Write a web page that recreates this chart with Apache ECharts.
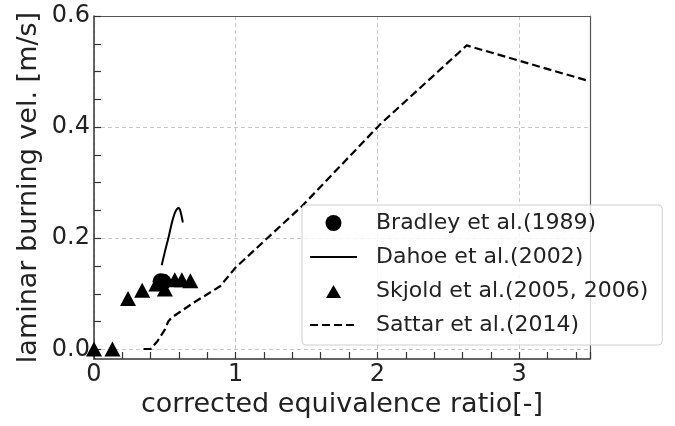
<!DOCTYPE html>
<html><head><meta charset="utf-8">
<script src="https://cdn.jsdelivr.net/npm/echarts@6/dist/echarts.min.js"></script>
<style>html,body{margin:0;padding:0;background:#fff}#c{width:675px;height:426px}</style>
</head><body><div id="c"></div>
<script>
// ---- data ----
const seriesNames = ['Bradley et al.(1989)', 'Dahoe et al.(2002)', 'Skjold et al.(2005, 2006)', 'Sattar et al.(2014)'];
const bradley = [[0.47, 0.122], [0.49, 0.121]];
const dahoe = [[0.478, 0.151], [0.50, 0.175], [0.525, 0.200], [0.55, 0.228], [0.57, 0.245], [0.585, 0.252], [0.598, 0.254], [0.61, 0.248], [0.627, 0.228]];
const skjold = [[0.0, 0.0], [0.13, 0.0], [0.24, 0.091], [0.34, 0.106], [0.44, 0.117], [0.50, 0.108], [0.57, 0.125], [0.62, 0.125], [0.68, 0.123]];
const sattar = [[0.35, 0.0], [0.40, 0.0], [0.45, 0.015], [0.50, 0.035], [0.525, 0.050], [0.55, 0.057], [0.70, 0.083], [0.89, 0.113], [1.0, 0.147], [1.47, 0.258], [2.02, 0.405], [2.63, 0.547], [3.49, 0.483]];
const xMajor = [0, 1, 2, 3];
const xTickLabels = ['0', '1', '2', '3'];
const yMajor = [0, 0.2, 0.4, 0.6];
const yTickLabels = ['0.0', '0.2', '0.4', '0.6'];
const xName = 'corrected equivalence ratio[-]';
const yName = 'laminar burning vel. [m/s]';

const FONT = 'DejaVu Sans';
function pick(majors, labels) {
  return function (v) {
    for (let i = 0; i < majors.length; i++) if (Math.abs(v - majors[i]) < 1e-6) return labels[i];
    return '';
  };
}
const spine = '#333';
const gridLine = {show: true, lineStyle: {color: '#c8c8c8', type: [4, 3], width: 1}};
const Y_MIN = -0.018, Y_MAX = 0.6;
// legend triangle icon inside a 47x16 box so it keeps its shape
const triIcon = 'path://M0,0 M47,16 M23.5,2 L31,15 L16,15 Z';

const chart = echarts.init(document.getElementById('c'), null, {renderer: 'canvas'});
chart.setOption({
  animation: false,
  backgroundColor: '#fff',
  textStyle: {fontFamily: FONT},
  grid: [
    {left: 94, right: 85, top: 16, bottom: 67, containLabel: false},
    {left: 94, right: 85, top: 16, bottom: 76.7, containLabel: false}
  ],
  xAxis: [
    {
      gridIndex: 0, type: 'value', min: 0, max: 3.5, interval: 0.2, position: 'bottom',
      axisLine: {show: true, onZero: false, lineStyle: {color: spine, width: 1.5}},
      axisTick: {show: true, inside: true, length: 7, lineStyle: {color: spine, width: 1.2}},
      axisLabel: {formatter: pick(xMajor, xTickLabels), fontSize: 24, color: '#222', margin: 4, fontFamily: FONT},
      splitLine: {show: false},
      name: xName, nameLocation: 'middle', nameGap: 31,
      nameTextStyle: {fontSize: 27, color: '#222', fontFamily: FONT}
    },
    {
      gridIndex: 0, type: 'value', min: 0, max: 3.5, interval: 1, position: 'top',
      axisLine: {show: true, onZero: false, lineStyle: {color: '#555', width: 1.2}},
      axisTick: {show: false}, axisLabel: {show: false},
      splitLine: gridLine
    },
    {gridIndex: 1, type: 'value', min: 0, max: 3.5, show: false}
  ],
  yAxis: [
    {
      gridIndex: 0, type: 'value', min: Y_MIN, max: Y_MAX, position: 'left',
      axisLine: {show: true, onZero: false, lineStyle: {color: spine, width: 1.5}},
      axisTick: {show: false}, axisLabel: {show: false}, splitLine: {show: false},
      name: yName, nameLocation: 'middle', nameGap: 52,
      nameTextStyle: {fontSize: 27, color: '#222', fontFamily: FONT}
    },
    {
      gridIndex: 0, type: 'value', min: Y_MIN, max: Y_MAX, position: 'right',
      axisLine: {show: true, onZero: false, lineStyle: {color: '#555', width: 1.2}},
      axisTick: {show: false}, axisLabel: {show: false}, splitLine: {show: false}
    },
    {
      gridIndex: 1, type: 'value', min: 0, max: 0.6, interval: 0.05, position: 'left',
      axisLine: {show: false, onZero: false},
      axisTick: {show: true, inside: true, length: 7, lineStyle: {color: spine, width: 1.2}},
      axisLabel: {formatter: pick(yMajor, yTickLabels), fontSize: 24, color: '#222', margin: 4, fontFamily: FONT},
      splitLine: {show: false}
    },
    {
      gridIndex: 1, type: 'value', min: 0, max: 0.6, interval: 0.2, position: 'right',
      axisLine: {show: false, onZero: false}, axisTick: {show: false}, axisLabel: {show: false},
      splitLine: gridLine
    }
  ],
  legend: {
    orient: 'vertical', left: 302, top: 205,
    padding: [7, 14, 9, 7], itemGap: 12, itemWidth: 47, itemHeight: 16,
    backgroundColor: 'rgba(255,255,255,0.8)', borderColor: '#d0d0d0', borderWidth: 1, borderRadius: 4,
    textStyle: {fontSize: 22, color: '#222', fontFamily: FONT, padding: [0, 0, 0, 14]},
    data: [
      {name: seriesNames[0]},
      {name: seriesNames[1], itemStyle: {color: 'rgba(0,0,0,0)', opacity: 0, borderWidth: 0}},
      {name: seriesNames[2], icon: triIcon},
      {name: seriesNames[3], itemStyle: {color: 'rgba(0,0,0,0)', opacity: 0, borderWidth: 0}}
    ]
  },
  series: [
    {
      name: seriesNames[0], type: 'scatter', data: bradley, symbol: 'circle', symbolSize: 16,
      xAxisIndex: 0, yAxisIndex: 0,
      itemStyle: {color: '#000', opacity: 1}, z: 3
    },
    {
      name: seriesNames[1], type: 'line', data: dahoe, symbol: 'none', showSymbol: false, smooth: 0.3,
      xAxisIndex: 0, yAxisIndex: 0,
      lineStyle: {color: '#000', width: 2}, itemStyle: {color: '#000'}, z: 2
    },
    {
      name: seriesNames[2], type: 'scatter', data: skjold, symbol: 'triangle', symbolSize: [16, 15],
      xAxisIndex: 0, yAxisIndex: 0,
      itemStyle: {color: '#000', opacity: 1}, z: 3
    },
    {
      name: seriesNames[3], type: 'line', data: sattar, symbol: 'none', showSymbol: false,
      xAxisIndex: 0, yAxisIndex: 0,
      lineStyle: {color: '#000', width: 2.2, type: [8, 4]}, itemStyle: {color: '#000'}, z: 2
    }
  ]
});
</script>
</body></html>
